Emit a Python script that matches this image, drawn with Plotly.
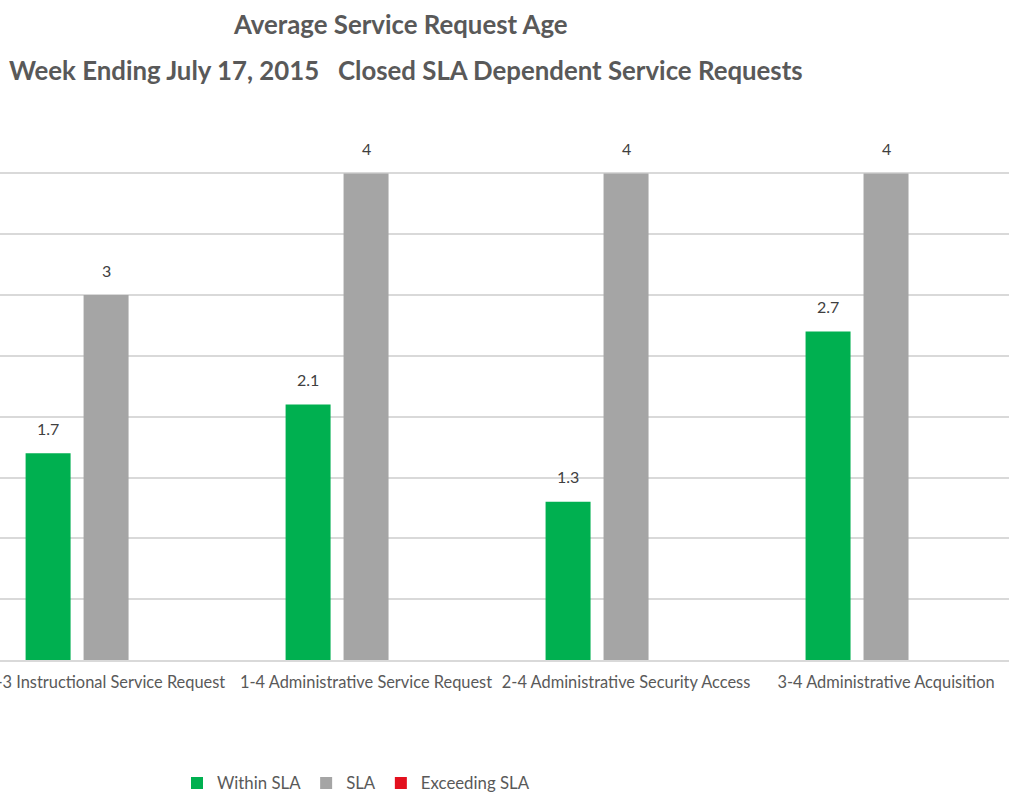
import plotly.graph_objects as go

categories = [
    "1-3 Instructional Service Request",
    "1-4 Administrative Service Request",
    "2-4 Administrative Security Access",
    "3-4 Administrative Acquisition",
]
within_sla = [1.7, 2.1, 1.3, 2.7]
sla = [3, 4, 4, 4]
exceeding_sla = [None, None, None, None]
title_line1 = "Average Service Request Age"
title_line2 = "Week Ending July 17, 2015   Closed SLA Dependent Service Requests"

FONT = "Lato, Liberation Sans, sans-serif"
TXT = "#595959"
W, H = 1009, 800
T, B = 171, 140
PLOT_H = H - T - B

fig = go.Figure()
fig.add_trace(go.Bar(name="Within SLA", x=categories, y=within_sla,
                     marker=dict(color="#00B050", line=dict(width=0))))
fig.add_trace(go.Bar(name="SLA", x=categories, y=sla,
                     marker=dict(color="#A5A5A5", line=dict(width=0))))
fig.add_trace(go.Bar(name="Exceeding SLA", x=categories, y=exceeding_sla,
                     marker=dict(color="#E3101E", line=dict(width=0))))

# data labels above bars
for series, shift in ((within_sla, -58), (sla, 0)):
    for cat, val in zip(categories, series):
        fig.add_annotation(x=cat, y=val, text=f"{val:g}", showarrow=False,
                           xshift=shift, yshift=25, yanchor="middle",
                           font=dict(family=FONT, size=16, color="#404040"))

# titles
fig.add_annotation(text=f"<b>{title_line1}</b>", xref="paper", yref="paper",
                   x=400 / W, y=1 + (T - 24) / PLOT_H, xanchor="center", yanchor="middle",
                   showarrow=False, font=dict(family=FONT, size=25.8, color=TXT))
fig.add_annotation(text=f"<b>{title_line2}</b>", xref="paper", yref="paper",
                   x=406 / W, y=1 + (T - 70) / PLOT_H, xanchor="center", yanchor="middle",
                   showarrow=False, font=dict(family=FONT, size=25.8, color=TXT))

fig.update_layout(
    width=W, height=H,
    margin=dict(l=0, r=0, t=T, b=B, autoexpand=False),
    paper_bgcolor="white", plot_bgcolor="white",
    barmode="group", bargap=0.331, bargroupgap=0.224,
    font=dict(family=FONT, color=TXT),
    showlegend=True,
    legend=dict(
        orientation="h", x=356 / W, xanchor="center", y=-(783 - (H - B)) / PLOT_H,
        yanchor="middle", font=dict(size=16.8, color=TXT, family=FONT),
        traceorder="normal",
    ),
    xaxis=dict(
        type="category", range=[-0.408, 3.473], tickangle=0, automargin=False,
        showgrid=False, showline=True, linecolor="#D9D9D9", linewidth=1.5,
        ticks="", ticklabelstandoff=7, tickfont=dict(size=16.4, color=TXT, family=FONT),
    ),
    yaxis=dict(
        range=[0, 4.02], tick0=0, dtick=0.5, showticklabels=False, automargin=False,
        showgrid=True, gridcolor="#D9D9D9", gridwidth=1.5,
        zeroline=False, showline=False, ticks="",
    ),
)

fig.write_html("out.html")
